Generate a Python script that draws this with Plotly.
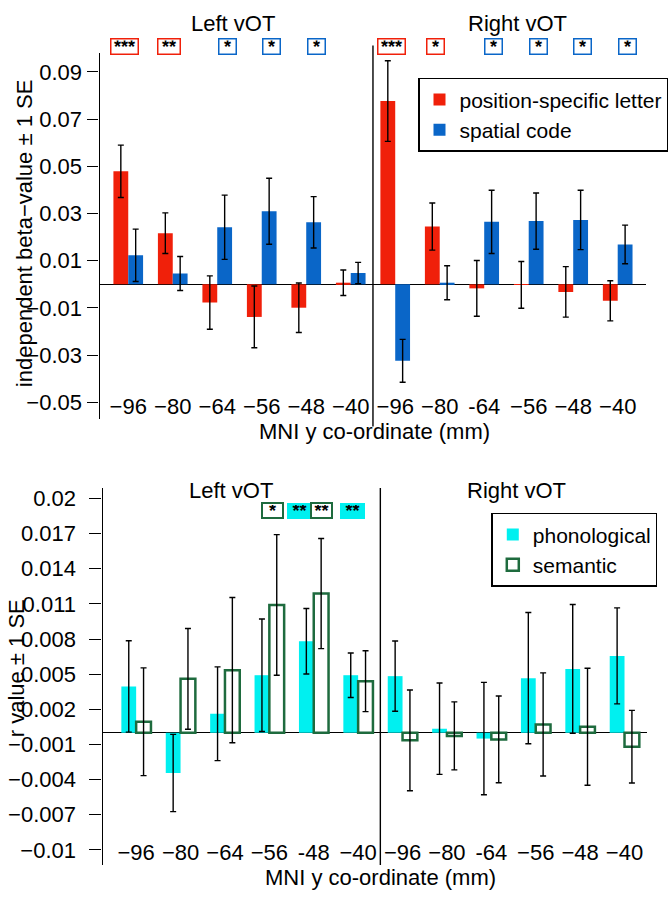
import plotly.graph_objects as go

# ---------------- data ----------------
top_ticktext = ["−96", "−80", "−64", "−56", "−48", "−40",
                "−96", "−80", "-64", "−56", "−48", "−40"]
bot_ticktext = ["−96", "−80", "−64", "−56", "-48", "−40",
                "−96", "−80", "-64", "−56", "−48", "−40"]
groups = list(range(12))  # 0-5 Left vOT, 6-11 Right vOT

letter_vals = [0.0479, 0.0217, -0.0077, -0.0138, -0.0099, 0.0007,
               0.0777, 0.0245, -0.0017, -0.0002, -0.0032, -0.0070]
letter_se = [0.0111, 0.0086, 0.0113, 0.0131, 0.0105, 0.0054,
             0.0171, 0.0100, 0.0118, 0.0099, 0.0107, 0.0085]
spatial_vals = [0.0123, 0.0046, 0.0242, 0.0310, 0.0263, 0.0048,
                -0.0324, 0.0007, 0.0265, 0.0268, 0.0273, 0.0169]
spatial_se = [0.0111, 0.0072, 0.0136, 0.0140, 0.0109, 0.0045,
              0.0091, 0.0072, 0.0134, 0.0119, 0.0126, 0.0082]

phon_vals = [0.00395, -0.00344, 0.00162, 0.00491, 0.00781, 0.00491,
             0.00483, 0.00034, -0.00050, 0.00466, 0.00545, 0.00656]
phon_se = [0.0039, 0.0033, 0.0040, 0.0048, 0.0028, 0.0019,
           0.0030, 0.0039, 0.0048, 0.0056, 0.0055, 0.0041]
sem_vals = [0.00094, 0.00460, 0.00534, 0.01091, 0.01188, 0.00440,
            -0.00065, -0.00027, -0.00057, 0.00071, 0.00051, -0.00119]
sem_se = [0.0046, 0.0043, 0.0062, 0.0060, 0.0047, 0.0026,
          0.0043, 0.0029, 0.0037, 0.0044, 0.0050, 0.0031]

top_yticks = [-0.05, -0.03, -0.01, 0.01, 0.03, 0.05, 0.07, 0.09]
top_yticktext = ["−0.05", "−0.03", "−0.01", "0.01", "0.03", "0.05", "0.07", "0.09"]
bot_yticks = [-0.01, -0.007, -0.004, -0.001, 0.002, 0.005, 0.008, 0.011, 0.014, 0.017, 0.02]
bot_yticktext = ["−0.01", "−0.007", "−0.004", "−0.001", "0.002", "0.005", "0.008",
                 "0.011", "0.014", "0.017", "0.02"]

# significance markers: (group index, series, label)
top_stars = [(0, "letter", "***"), (1, "letter", "**"), (2, "spatial", "*"),
             (3, "spatial", "*"), (4, "spatial", "*"),
             (6, "letter", "***"), (7, "letter", "*"), (8, "spatial", "*"),
             (9, "spatial", "*"), (10, "spatial", "*"), (11, "spatial", "*")]
bot_stars = [(3, "sem", "*"), (4, "phon", "**"), (4, "sem", "**"), (5, "phon", "**")]

# ---------------- style ----------------
FONT = "Liberation Sans, Arial, sans-serif"
RED = "#F0200A"
BLUE = "#0A66C8"
CYAN = "#00F0F0"
GREEN = "#1E6B3E"
W, H = 668, 900
FS = 22


def px_x(p):
    return p / W


def px_y(p):
    return 1 - p / H


err_style = dict(type="data", color="black", thickness=1.4, width=3)

fig = go.Figure()
fig.add_trace(go.Bar(x=groups, y=letter_vals, name="position-specific letter",
                     marker=dict(color=RED, line=dict(width=0)),
                     error_y=dict(array=letter_se, **err_style),
                     xaxis="x", yaxis="y", legend="legend", offsetgroup="a"))
fig.add_trace(go.Bar(x=groups, y=spatial_vals, name="spatial code",
                     marker=dict(color=BLUE, line=dict(width=0)),
                     error_y=dict(array=spatial_se, **err_style),
                     xaxis="x", yaxis="y", legend="legend", offsetgroup="b"))
fig.add_trace(go.Bar(x=groups, y=phon_vals, name="phonological",
                     marker=dict(color=CYAN, line=dict(width=0)),
                     error_y=dict(array=phon_se, **err_style),
                     xaxis="x2", yaxis="y2", legend="legend2", offsetgroup="c"))
fig.add_trace(go.Bar(x=groups, y=sem_vals, name="semantic",
                     marker=dict(color="white", line=dict(width=2.5, color=GREEN)),
                     error_y=dict(array=sem_se, **err_style),
                     xaxis="x2", yaxis="y2", legend="legend2", offsetgroup="d"))

tickfont = dict(family=FONT, size=FS, color="black")

fig.update_layout(
    width=W, height=H, margin=dict(l=0, r=0, t=0, b=0),
    paper_bgcolor="white", plot_bgcolor="white",
    barmode="group", bargap=1 / 3, bargroupgap=0,
    font=dict(family=FONT, size=FS, color="black"),
    xaxis=dict(domain=[px_x(101), px_x(655)], range=[-0.643, 11.64],
               anchor="free", position=px_y(390),
               tickvals=groups, ticktext=top_ticktext, ticks="",
               showline=False, showgrid=False, zeroline=False, tickfont=tickfont),
    yaxis=dict(domain=[px_y(418), px_y(51)], range=[-0.0571, 0.0981], anchor="x",
               tickvals=top_yticks, ticktext=top_yticktext,
               ticks="outside", ticklen=11, tickwidth=1.4, tickcolor="black",
               showline=True, linecolor="black", linewidth=1.4,
               showgrid=False, zeroline=True, zerolinecolor="black", zerolinewidth=1.3,
               tickfont=tickfont, ticklabelstandoff=1),
    xaxis2=dict(domain=[px_x(104), px_x(656)], range=[-0.756, 11.51],
                anchor="free", position=px_y(837),
                tickvals=groups, ticktext=bot_ticktext, ticks="",
                showline=False, showgrid=False, zeroline=False, tickfont=tickfont),
    yaxis2=dict(domain=[px_y(865), px_y(487)], range=[-0.0113, 0.0209], anchor="x2",
                tickvals=bot_yticks, ticktext=bot_yticktext,
                ticks="outside", ticklen=12, tickwidth=1.4, tickcolor="black",
                showline=True, linecolor="black", linewidth=1.4,
                showgrid=False, zeroline=True, zerolinecolor="black", zerolinewidth=1.3,
                tickfont=tickfont, ticklabelstandoff=9),
    legend=dict(x=px_x(424), y=px_y(76), xanchor="left", yanchor="top",
                bordercolor="black", borderwidth=1.5, bgcolor="white",
                font=dict(family=FONT, size=21), tracegroupgap=0,
                itemwidth=30),
    legend2=dict(x=px_x(498), y=px_y(512), xanchor="left", yanchor="top",
                 bordercolor="black", borderwidth=1.5, bgcolor="white",
                 font=dict(family=FONT, size=21), tracegroupgap=0,
                 itemwidth=30),
)

# divider lines between hemispheres
fig.add_shape(type="line", xref="x", yref="y domain", x0=5.5, x1=5.5, y0=-0.02, y1=1.02,
              line=dict(color="black", width=1.4))
fig.add_shape(type="line", xref="x2", yref="y2 domain", x0=5.5, x1=5.5, y0=0, y1=1,
              line=dict(color="black", width=1.4))

# panel titles and axis titles
def txt(text, x, y, size=FS, angle=0):
    fig.add_annotation(text=text, xref="paper", yref="paper", x=px_x(x), y=px_y(y),
                       xanchor="center", yanchor="middle", showarrow=False,
                       textangle=angle, font=dict(family=FONT, size=size, color="black"))

txt("Left vOT", 236, 22)
txt("Right vOT", 525, 22)
txt("Left vOT", 234, 490)
txt("Right vOT", 524, 490)
txt("MNI y co-ordinate (mm)", 380, 430)
txt("MNI y co-ordinate (mm)", 386, 877)
txt("independent beta−value ± 1 SE", 25, 232, angle=-90)
txt("r value ± 1 SE", 17, 668, angle=-90)

# significance boxes
top_off = {"letter": -0.09, "spatial": 0.22}
top_col = {"letter": RED, "spatial": BLUE}
for g, s, lab in top_stars:
    fig.add_annotation(text="<b>" + lab + "</b>", xref="x", yref="paper",
                       x=g + top_off[s], y=px_y(45),
                       xanchor="center", yanchor="middle", showarrow=False,
                       width=24 if len(lab) == 3 else (19 if len(lab) == 2 else 14),
                       height=12, bgcolor="white", bordercolor=top_col[s],
                       borderwidth=1.5, borderpad=1,
                       font=dict(family=FONT, size=18, color="black"))

bot_off = {(3, "sem"): 0.067, (4, "phon"): -0.31, (4, "sem"): 0.178, (5, "phon"): -0.133}
for g, s, lab in bot_stars:
    if s == "sem":
        fig.add_annotation(text="<b>" + lab + "</b>", xref="x2", yref="paper",
                           x=g + bot_off[(g, s)], y=px_y(510),
                           xanchor="center", yanchor="middle", showarrow=False,
                           width=17, height=11, bgcolor="white", bordercolor=GREEN,
                           borderwidth=2, borderpad=1,
                           font=dict(family=FONT, size=18, color="black"))
    else:
        fig.add_annotation(text="<b>" + lab + "</b>", xref="x2", yref="paper",
                           x=g + bot_off[(g, s)], y=px_y(510),
                           xanchor="center", yanchor="middle", showarrow=False,
                           width=21, height=12, bgcolor=CYAN, bordercolor=CYAN,
                           borderwidth=1, borderpad=1,
                           font=dict(family=FONT, size=18, color="black"))

fig.write_html("out.html")
